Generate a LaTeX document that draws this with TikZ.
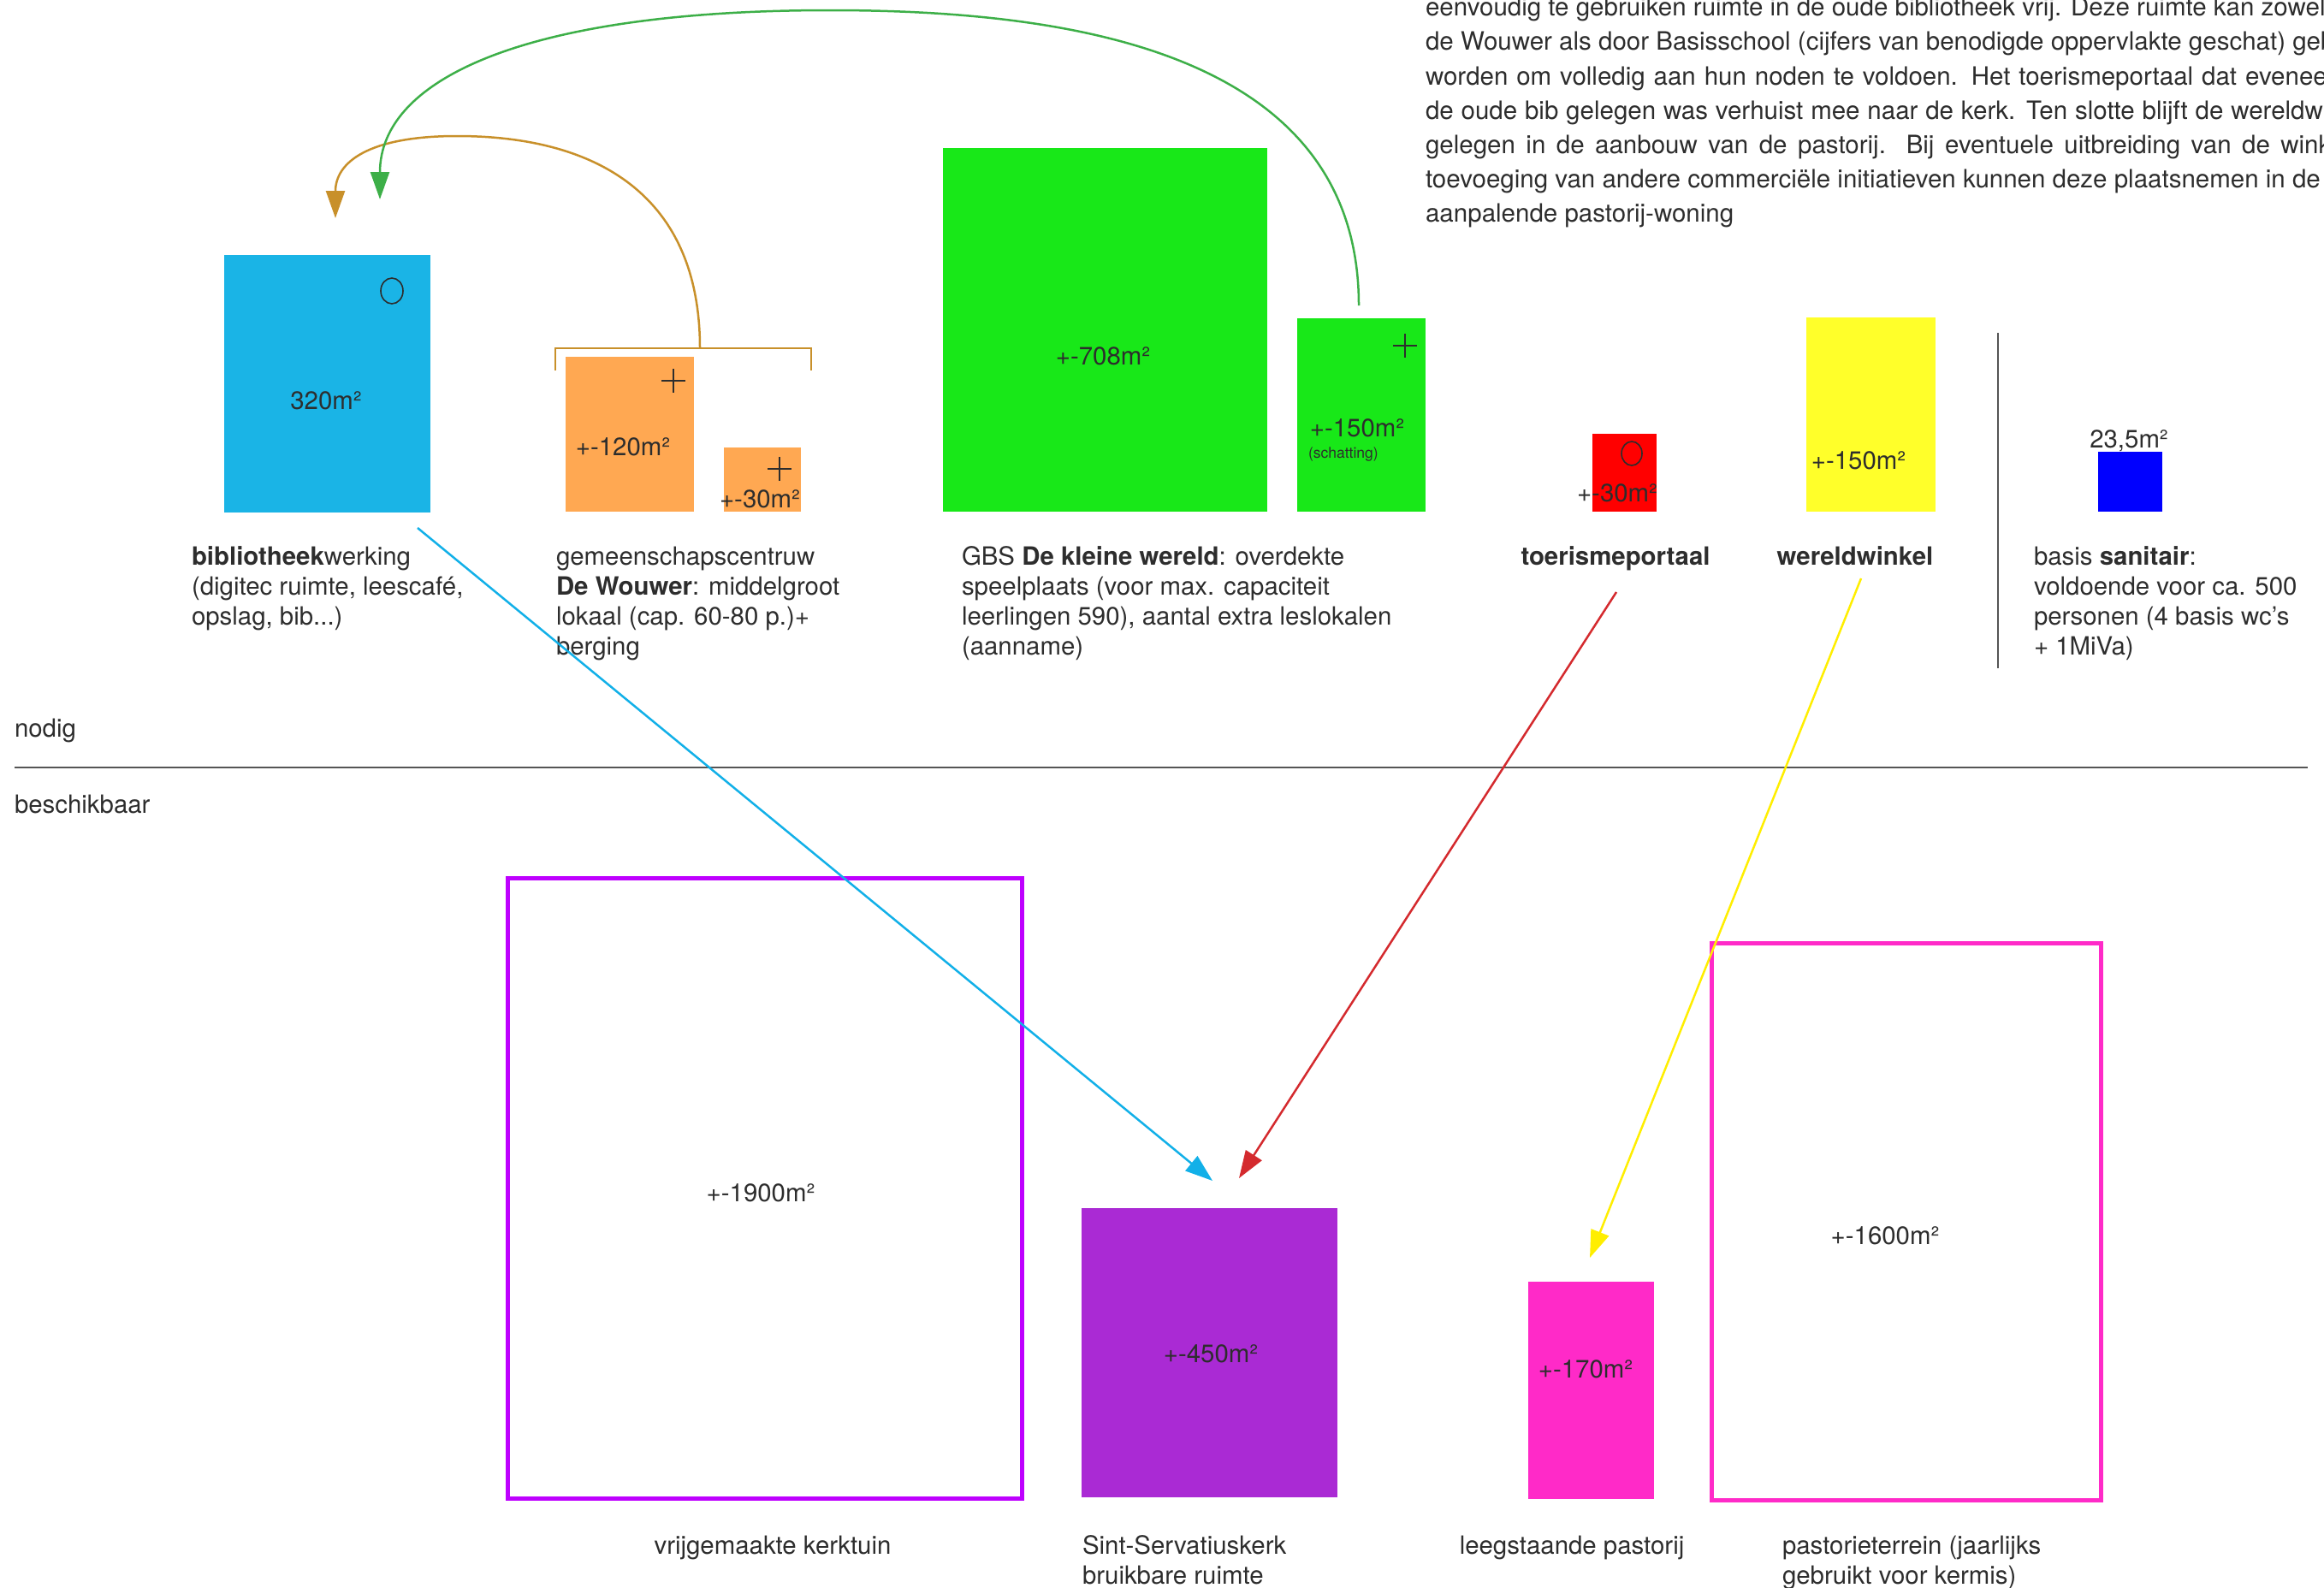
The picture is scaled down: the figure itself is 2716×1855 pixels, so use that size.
\documentclass[tikz,border=0pt]{standalone}
\usepackage{fontspec}
\setmainfont{TeX Gyre Heros}
\usetikzlibrary{arrows.meta}
\definecolor{txt}{HTML}{2D2D2D}
\definecolor{cBib}{HTML}{1AB4E6}
\definecolor{cOr}{HTML}{FFA852}
\definecolor{cGr}{HTML}{18E818}
\definecolor{cRed}{HTML}{FF0000}
\definecolor{cYel}{HTML}{FFFF2A}
\definecolor{cSan}{HTML}{0000FF}
\definecolor{cKerk}{HTML}{AA2AD4}
\definecolor{cTuin}{HTML}{BE00FF}
\definecolor{cPink}{HTML}{FF2AC8}
\definecolor{aBlue}{HTML}{12B0E8}
\definecolor{aRed}{HTML}{D42A2E}
\definecolor{aYel}{HTML}{FFEE00}
\definecolor{aOr}{HTML}{C8902A}
\definecolor{aGr}{HTML}{3DAF48}
\definecolor{rule}{HTML}{555555}
\tikzset{
  box/.style={inner sep=0, outer sep=0, anchor=north west},
  lbl/.style={font=\fontsize{29.4}{35}\selectfont, text=txt, inner sep=0, outer sep=0, align=left, anchor=north west},
  val/.style={font=\fontsize{29.4}{35}\selectfont, text=txt, inner sep=0, outer sep=0, text height=21pt, text depth=6pt},
  conn/.style={line width=2.5pt, -{Triangle[length=32pt,width=22pt]}},
  symb/.style={line width=1.6pt, txt},
}
\begin{document}
\begin{tikzpicture}[x=1pt,y=-1pt]
\useasboundingbox (0,0) rectangle (2716,1855);
\clip (0,0) rectangle (2716,1855);

% top paragraph
\node[lbl, font=\fontsize{29.5}{40.2}\selectfont] (para) at (1666,-9.5) {\strut eenvoudig te gebruiken ruimte in de oude bibliotheek vrij. Deze ruimte kan zowel\\
de Wouwer als door Basisschool (cijfers van benodigde oppervlakte geschat) gebruikt\\
\hbox spread 22pt{worden om volledig aan hun noden te voldoen. Het toerismeportaal dat eveneens}\\
\hbox spread 10pt{de oude bib gelegen was verhuist mee naar de kerk. Ten slotte blijft de wereldwinkel}\\
\hbox spread 60pt{gelegen in de aanbouw van de pastorij. Bij eventuele uitbreiding van de winkel}\\
toevoeging van andere commerciële initiatieven kunnen deze plaatsnemen in de\\
aanpalende pastorij-woning};

% needed boxes
\node[box, fill=cBib, minimum width=241pt, minimum height=301pt] (bib) at (262,298) {};
\draw[symb] (458,340) ellipse (13 and 15);
\node[val] (bibv) at (381,471) {320m²};

\node[box, fill=cOr, minimum width=150pt, minimum height=181pt] (gc1) at (661,417) {};
\node[box, fill=cOr, minimum width=90pt, minimum height=75pt] (gc2) at (846,523) {};
\draw[symb] (773,445) -- (801,445) (787,431) -- (787,459);
\draw[symb] (897,548) -- (925,548) (911,534) -- (911,562);
\node[val] (gc1v) at (728,525) {+-120m²};
\node[val] (gc2v) at (888,586) {+-30m²};

\node[box, fill=cGr, minimum width=379pt, minimum height=425pt] (gbs1) at (1102,173) {};
\node[box, fill=cGr, minimum width=150pt, minimum height=226pt] (gbs2) at (1516,372) {};
\draw[symb] (1628,404) -- (1656,404) (1642,390) -- (1642,418);
\node[val] (gbs1v) at (1289,419) {+-708m²};
\node[val] (gbs2v) at (1586,503) {+-150m²};
\node[lbl, font=\fontsize{17.5}{20}\selectfont, anchor=west] (gbs2s) at (1529,531) {(schatting)};

\node[box, fill=cRed, minimum width=75pt, minimum height=91pt] (toer) at (1861,507) {};
\draw[symb] (1907,530) ellipse (12 and 14);
\node[val] (toerv) at (1890,579) {+-30m²};

\node[box, fill=cYel, minimum width=151pt, minimum height=227pt] (wer) at (2111,371) {};
\node[val] (werv) at (2172,541) {+-150m²};

\node[box, fill=cSan, minimum width=75pt, minimum height=70pt] (san) at (2452,528) {};
\node[val] (sanv) at (2488,516) {23,5m²};

% bracket
\draw[aOr, line width=2.5pt] (649,433) -- (649,407) -- (948,407) -- (948,433);
\coordinate (brk) at (818,407);

% labels needed
\node[lbl] (bibT) at (224,635.5) {\strut\textbf{bibliotheek}werking\\(digitec ruimte, leescafé,\\opslag, bib...)};
\node[lbl] (gcT) at (650,635.5) {\strut gemeenschapscentruw\\\textbf{De Wouwer}: middelgroot\\lokaal (cap. 60-80 p.)+\\berging};
\node[lbl] (gbsT) at (1124,635.5) {\strut GBS \textbf{De kleine wereld}: overdekte\\speelplaats (voor max. capaciteit\\leerlingen 590), aantal extra leslokalen\\(aanname)};
\node[lbl, anchor=north] (toerT) at (1888,635.5) {\strut\textbf{toerismeportaal}};
\node[lbl, anchor=north] (werT) at (2168,635.5) {\strut\textbf{wereldwinkel}};
\node[lbl] (sanT) at (2377,635.5) {\strut basis \textbf{sanitair}:\\voldoende voor ca. 500\\personen (4 basis wc’s\\+ 1MiVa)};

\draw[rule, line width=2pt] (2335,389) -- (2335,781);

% divider
\node[lbl] (nodig) at (17,836.5) {\strut nodig};
\draw[rule, line width=2pt] (17,897) -- (2697,897);
\node[lbl] (besch) at (17,925.5) {\strut beschikbaar};

% available
\node[box, draw=cTuin, line width=5pt, minimum width=601pt, minimum height=725pt] (tuin) at (593.5,1026.5) {};
\node[val] (tuinv) at (889,1397) {+-1900m²};
\node[box, fill=cKerk, minimum width=299pt, minimum height=338pt] (kerk) at (1264,1412) {};
\node[val] (kerkv) at (1415,1585) {+-450m²};
\node[box, fill=cPink, minimum width=147pt, minimum height=254pt] (past) at (1786,1498) {};
\node[val] (pastv) at (1853,1603) {+-170m²};
\node[box, draw=cPink, line width=5pt, minimum width=455pt, minimum height=651pt] (terr) at (2000,1102.5) {};
\node[val] (terrv) at (2203,1447) {+-1600m²};

\node[lbl, anchor=north] (tuinT) at (903,1791.5) {\strut vrijgemaakte kerktuin};
\node[lbl] (kerkT) at (1265,1791.5) {\strut Sint-Servatiuskerk\\bruikbare ruimte};
\node[lbl, anchor=north] (pastT) at (1837,1791.5) {\strut leegstaande pastorij};
\node[lbl] (terrT) at (2083,1791.5) {\strut pastorieterrein (jaarlijks\\gebruikt voor kermis)};

% connectors
\coordinate (bibS) at (488,617);
\coordinate (kerkN1) at (1417,1380);
\coordinate (toerS) at (1889,692);
\coordinate (kerkN2) at (1448,1377);
\coordinate (werS) at (2175,676);
\coordinate (pastN) at (1858,1470);
\coordinate (gbsN) at (1588,357);
\coordinate (bibN1) at (392,255);
\coordinate (bibN2) at (444,233);

\draw[conn, aBlue] (bibS) -- (kerkN1);
\draw[conn, aRed] (toerS) -- (kerkN2);
\draw[conn, aYel] (werS) -- (pastN);
\draw[conn, aOr] (brk) .. controls (818,230) and (700,159) .. (534,159) .. controls (430,159) and (392,190) .. (bibN1);
\draw[conn, aGr] (gbsN) .. controls (1588,60) and (1250,12) .. (970,12) .. controls (620,12) and (444,90) .. (bibN2);
\end{tikzpicture}
\end{document}
